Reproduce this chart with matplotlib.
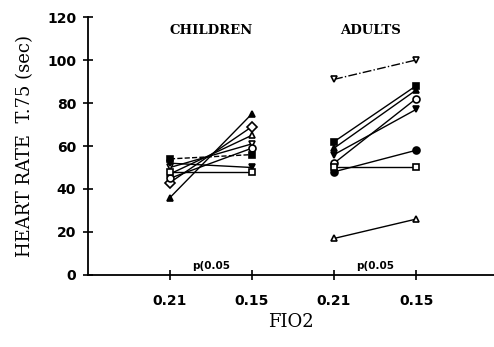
import matplotlib
matplotlib.use("Agg")
import matplotlib.pyplot as plt

# x positions of the four FIO2 conditions
x_ticks = [1, 2, 3, 4]
x_labels = ["0.21", "0.15", "0.21", "0.15"]

# children: (marker, filled, value at 0.21, value at 0.15, linestyle)
children = [
    ("^", True, 36, 75, "-"),
    ("D", False, 43, 69, "-"),
    ("^", False, 47, 65, "-"),
    ("v", False, 50, 61, "-"),
    ("o", False, 45, 59, "-"),
    ("s", True, 54, 56, "--"),
    ("v", True, 52, 50, "-"),
    ("s", False, 48, 48, "-"),
]

# adults
adults = [
    ("v", False, 91, 100, "-."),
    ("s", True, 62, 88, "-"),
    ("^", True, 59, 86, "-"),
    ("o", False, 52, 82, "-"),
    ("v", True, 56, 77, "-"),
    ("o", True, 48, 58, "-"),
    ("s", False, 50, 50, "-"),
    ("^", False, 17, 26, "-"),
]

fig = plt.figure(figsize=(4.94, 3.47), dpi=100)
ax = fig.add_axes([0.178, 0.2075, 0.822, 0.7435])

for group, (x0, x1) in [(children, (1, 2)), (adults, (3, 4))]:
    for marker, filled, v0, v1, ls in group:
        ax.plot([x0, x1], [v0, v1], color="black", lw=1.0, ls=ls,
                marker=marker, markersize=5,
                markerfacecolor="black" if filled else "white",
                markeredgecolor="black", markeredgewidth=1.2)

ax.set_xlim(0, 4.95)
ax.set_ylim(0, 120)
ax.set_xticks(x_ticks)
ax.set_xticklabels(x_labels)
ax.set_yticks(range(0, 121, 20))
ax.tick_params(direction="inout", length=7, width=1.2, labelsize=10)
ax.tick_params(axis="x", pad=10)
ax.tick_params(axis="y", pad=5)
for lab in ax.get_xticklabels() + ax.get_yticklabels():
    lab.set_fontweight("bold")

for s in ["top", "right"]:
    ax.spines[s].set_visible(False)
for s in ["left", "bottom"]:
    ax.spines[s].set_linewidth(1.3)

ax.text(1.5, 113.5, "CHILDREN", ha="center", va="center", family="DejaVu Serif",
        fontweight="bold", fontsize=9.5)
ax.text(3.45, 113.5, "ADULTS", ha="center", va="center", family="DejaVu Serif",
        fontweight="bold", fontsize=9.5)
ax.text(1.5, 2, "p(0.05", ha="center", va="bottom", fontsize=7.5, fontweight="bold")
ax.text(3.5, 2, "p(0.05", ha="center", va="bottom", fontsize=7.5, fontweight="bold")

ax.set_ylabel("HEART RATE  T.75 (sec)", family="DejaVu Serif", fontsize=13, labelpad=9)
ax.set_xlabel("FIO2", family="DejaVu Serif", fontsize=13, labelpad=4)

fig.savefig("out.png", dpi=100)
